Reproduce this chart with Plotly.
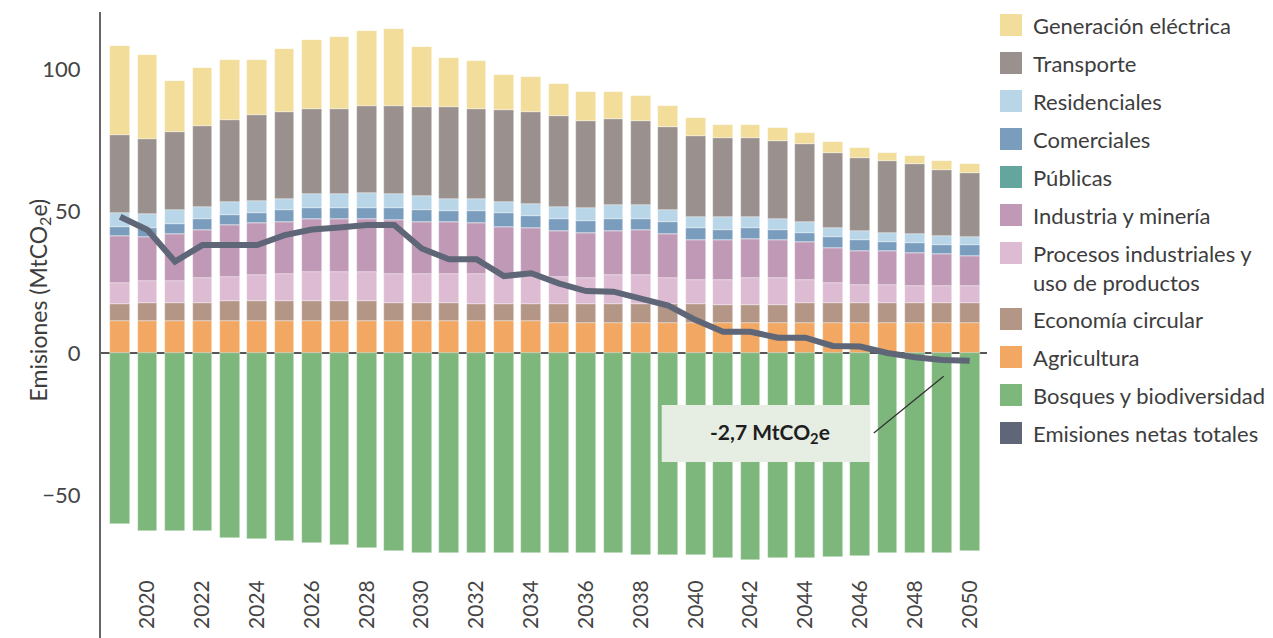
import plotly.graph_objects as go

# Years on the x axis
YEARS = list(range(2019, 2051))
TICK_YEARS = list(range(2020, 2051, 2))

# Sector emissions (MtCO2e), stacked bottom-up
AGRICULTURA = [11.3] * 16 + [10.7] * 16
ECONOMIA = [5.8, 6.3, 6.3, 6.3, 6.9, 6.9, 6.9, 6.9, 6.9, 6.9, 6.3, 6.3, 6.3, 5.8, 5.8, 5.8,
            6.4, 6.4, 6.4, 6.4, 6.4, 6.4, 6.3, 6.3, 6.3, 6.9, 6.9, 6.9, 6.9, 6.9, 6.9, 6.9]
PROCESOS = [7.7, 7.8, 7.8, 8.7, 8.7, 9.2, 9.6, 10.2, 10.2, 10.2, 10.2, 10.2, 10.2, 10.7, 10.7, 10.7,
            9.7, 9.2, 10.3, 10.3, 9.2, 8.6, 8.7, 9.3, 9.3, 8.1, 7.0, 6.5, 6.5, 5.9, 5.9, 5.9]
INDUSTRIA = [16.5, 15.3, 16.5, 17.1, 18.2, 18.3, 18.3, 18.8, 18.8, 18.8, 18.9, 18.3, 18.3, 17.9, 16.7, 16.2,
             16.2, 16.1, 15.6, 16.0, 15.6, 14.1, 14.0, 13.8, 13.4, 13.4, 12.4, 11.8, 11.8, 11.8, 11.4, 10.8]
PUBLICAS = [0.0] * 32
COMERCIALES = [3.2, 3.2, 3.6, 3.8, 3.6, 3.6, 4.3, 3.7, 3.7, 3.7, 4.2, 4.3, 3.8, 4.2, 4.8, 4.2,
               4.2, 4.2, 4.2, 3.8, 4.2, 4.2, 3.7, 3.8, 3.7, 3.3, 3.7, 3.8, 3.2, 3.3, 3.1, 3.7]
RESIDENCIALES = [4.9, 5.0, 5.0, 4.3, 4.5, 4.3, 3.8, 5.0, 5.0, 5.4, 5.0, 4.9, 4.3, 4.3, 3.9, 4.4,
                 4.3, 4.3, 4.8, 4.8, 4.3, 3.8, 4.4, 3.9, 3.8, 3.7, 3.3, 3.1, 3.3, 3.2, 3.3, 2.7]
TRANSPORTE = [27.4, 26.3, 27.4, 28.5, 29.0, 30.2, 30.7, 30.0, 30.0, 30.7, 31.1, 31.2, 32.3, 31.8, 32.2, 32.4,
              31.8, 30.8, 30.3, 29.7, 29.2, 28.5, 27.9, 27.9, 27.4, 27.5, 26.4, 26.0, 25.3, 24.9, 23.1, 22.7]
GENERACION = [31.3, 29.7, 17.9, 20.5, 21.1, 19.5, 22.1, 24.3, 25.4, 26.5, 27.1, 21.1, 17.2, 16.7, 12.5, 12.3,
              11.4, 10.3, 9.7, 8.7, 7.5, 6.4, 4.5, 4.5, 4.5, 3.9, 3.9, 3.3, 2.7, 2.7, 3.3, 3.3]
BOSQUES = [-60.2, -62.5, -62.5, -62.5, -65.0, -65.6, -66.2, -66.8, -67.6, -68.8, -69.7, -70.4, -70.4, -70.4, -70.4, -70.4,
           -70.4, -70.4, -70.4, -71.1, -71.1, -71.1, -72.1, -72.8, -72.1, -72.2, -71.9, -71.3, -70.4, -70.4, -70.3, -69.6]
NETAS = [48.0, 43.3, 32.2, 38.0, 38.0, 38.0, 41.5, 43.5, 44.2, 45.1, 45.1, 36.8, 33.0, 33.0, 27.1, 28.1,
         24.5, 21.8, 21.6, 19.2, 16.7, 11.6, 7.5, 7.5, 5.4, 5.4, 2.5, 2.3, 0.0, -1.5, -2.5, -2.7]

NET_LABEL = "-2,7 MtCO<sub>2</sub>e"

# name, values, color -- in stacking order (bottom first)
BAR_SERIES = [
    ("Agricultura", AGRICULTURA, "#f2a862"),
    ("Economía circular", ECONOMIA, "#b39686"),
    ("Procesos industriales y<br>uso de productos", PROCESOS, "#dcbbd3"),
    ("Industria y minería", INDUSTRIA, "#bf99b6"),
    ("Públicas", PUBLICAS, "#64a59e"),
    ("Comerciales", COMERCIALES, "#7a9cbd"),
    ("Residenciales", RESIDENCIALES, "#b8d6e8"),
    ("Transporte", TRANSPORTE, "#9a918f"),
    ("Generación eléctrica", GENERACION, "#f2dd9a"),
    ("Bosques y biodiversidad", BOSQUES, "#7db77b"),
]
NET_NAME = "Emisiones netas totales"
NET_COLOR = "#5f6677"

LEGEND_ORDER = ["Generación eléctrica", "Transporte", "Residenciales", "Comerciales", "Públicas",
                "Industria y minería", "Procesos industriales y<br>uso de productos",
                "Economía circular", "Agricultura", "Bosques y biodiversidad", NET_NAME]

FONT = "Lato, 'Open Sans', sans-serif"
TEXT_COLOR = "#3d3d3d"

# page body has an 8px margin, so the figure is drawn 8px in from the corner
OFF = 8
W, H = 1273 - OFF, 638 - OFF
ML, MR, MT, MB = 101 - OFF, 286, 12 - OFF, 0


def px_x(px):
    """screen pixel x -> paper x"""
    return (px - OFF - ML) / (W - ML - MR)


def px_y(py):
    """screen pixel y -> paper y"""
    return (H - MB - (py - OFF)) / (H - MT - MB)


fig = go.Figure()

for name, vals, color in BAR_SERIES:
    fig.add_trace(go.Bar(
        x=YEARS, y=vals, name=name,
        marker=dict(color=color, line=dict(color="rgba(255,255,255,0.6)", width=0.6)),
        width=0.72, showlegend=False,
    ))

fig.add_trace(go.Scatter(
    x=YEARS, y=NETAS, name=NET_NAME, mode="lines",
    line=dict(color=NET_COLOR, width=6), showlegend=False,
))

# manual legend with big squares
colors = {n: c for n, _, c in BAR_SERIES}
colors[NET_NAME] = NET_COLOR
shapes = []
annotations = []
row_y = 25
for name in LEGEND_ORDER:
    shapes.append(dict(type="rect", xref="paper", yref="paper",
                       x0=px_x(1000), x1=px_x(1022), y0=px_y(row_y + 11), y1=px_y(row_y - 11),
                       fillcolor=colors[name], line=dict(width=0)))
    nlines = name.count("<br>") + 1
    annotations.append(dict(text=name, xref="paper", yref="paper", x=px_x(1031),
                            y=px_y(row_y - 15), xanchor="left", yanchor="top", align="left",
                            showarrow=False, font=dict(family=FONT, size=22, color=TEXT_COLOR)))
    row_y += 38 + (nlines - 1) * 28

# net-emission callout
shapes.append(dict(type="rect", xref="x", yref="y", x0=2038.76, x1=2046.37, y0=-38.4, y1=-18.3,
                   fillcolor="#e6eee3", line=dict(width=0), layer="above"))
shapes.append(dict(type="line", xref="x", yref="y", x0=2046.5, y0=-28.2, x1=2049.05, y1=-8.2,
                   line=dict(color="#333333", width=1.3), layer="above"))
annotations.append(dict(text="<b>" + NET_LABEL + "</b>", xref="x", yref="y", x=2042.7, y=-28.3,
                        showarrow=False, font=dict(family=FONT, size=21, color="#1e1e1e")))

# y title
annotations.append(dict(text="Emisiones (MtCO<sub>2</sub>e)", xref="paper", yref="paper",
                        x=px_x(21), y=px_y(300), textangle=-90, showarrow=False,
                        font=dict(family=FONT, size=23, color=TEXT_COLOR)))

fig.update_layout(
    barmode="relative",
    bargap=0,
    width=W, height=H,
    margin=dict(l=ML, r=MR, t=MT, b=MB),
    paper_bgcolor="white", plot_bgcolor="white",
    font=dict(family=FONT, size=22, color="#444444"),
    shapes=shapes,
    annotations=annotations,
    xaxis=dict(
        range=[2018.3, 2050.63],
        tickvals=TICK_YEARS, tickangle=-90,
        showgrid=False, showline=False, zeroline=False, ticks="",
        anchor="free", position=px_y(575),
        tickfont=dict(size=21, color="#444444"),
    ),
    yaxis=dict(
        range=[-100.35, 120.07],
        tickvals=[-50, 0, 50, 100],
        showgrid=False, ticks="",
        showline=True, linecolor="#666666", linewidth=2,
        zeroline=True, zerolinecolor="#555555", zerolinewidth=2,
        ticklabelstandoff=14,
        tickfont=dict(size=22, color="#444444"),
    ),
)

fig.write_html("out.html")
